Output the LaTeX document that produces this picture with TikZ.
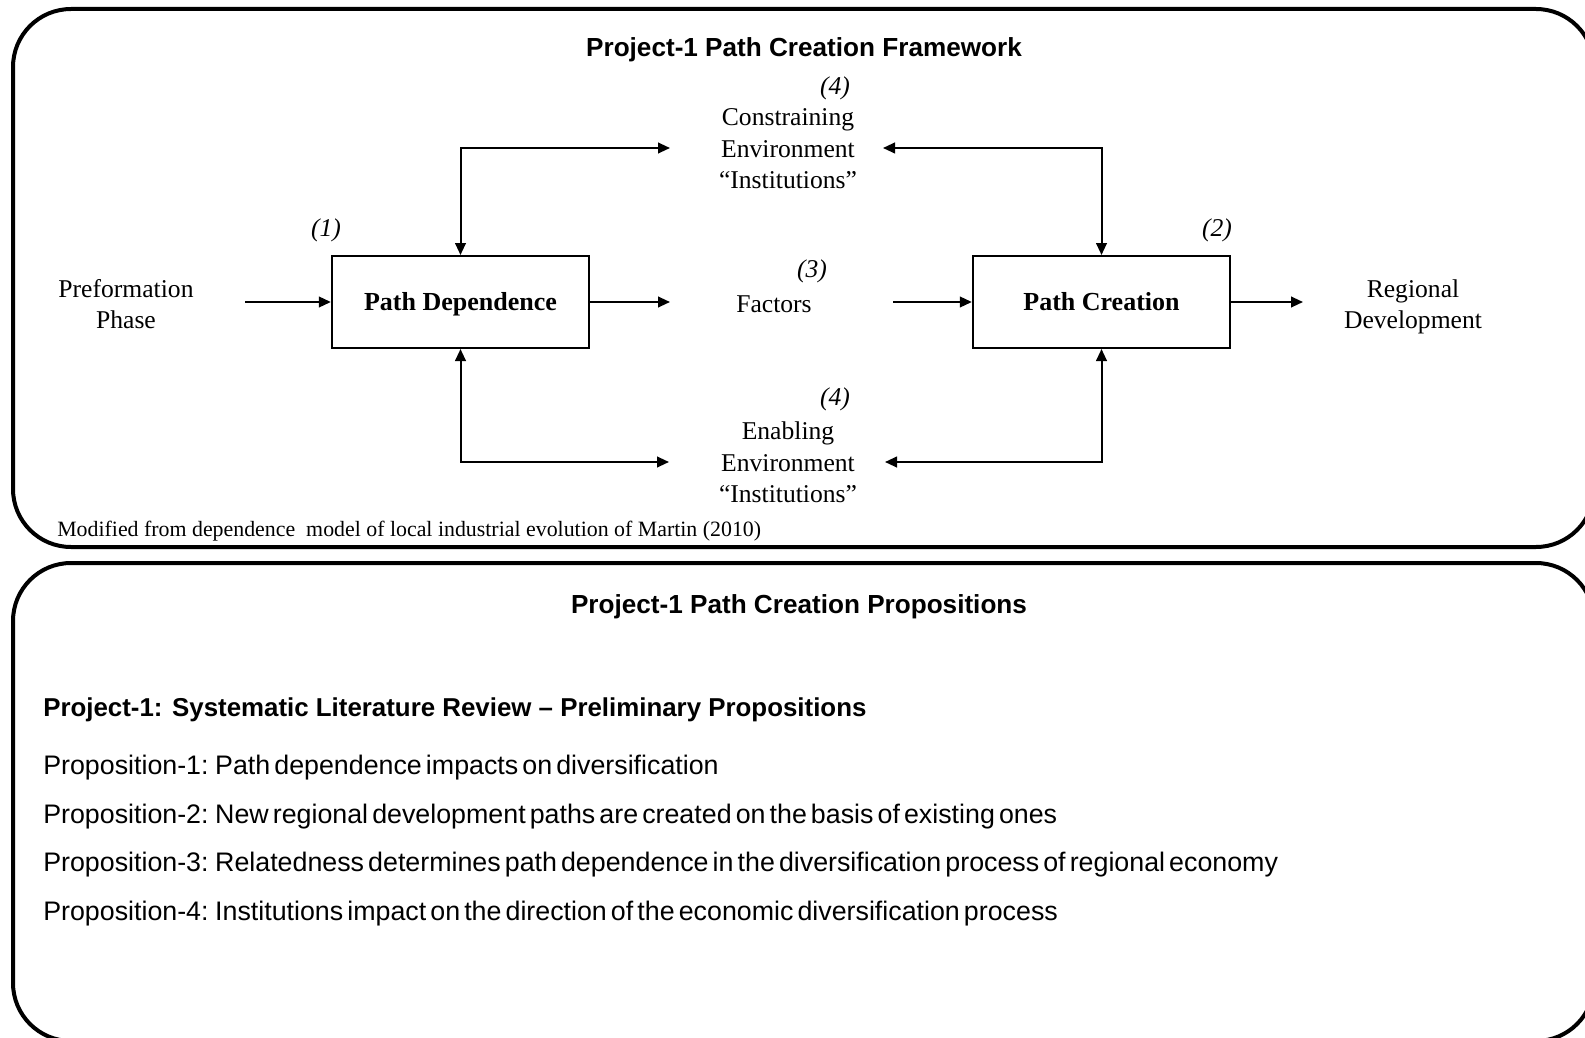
\documentclass[tikz,border=0pt]{standalone}
\usepackage{fontspec}
\setmainfont{Liberation Serif}
\setsansfont{Liberation Sans}
\newfontfamily\propfont{Liberation Sans}[WordSpace=0.55]
\usetikzlibrary{arrows.meta}
\begin{document}
\begin{tikzpicture}[x=0.75pt,y=-0.75pt,
  frame/.style={line width=3pt, rounded corners=43.5pt},
  block/.style={draw, line width=1.5pt, minimum width=193pt, minimum height=69pt,
    text height=15pt, text depth=1.6pt,
    font=\fontsize{19.5}{23}\selectfont\bfseries},
  lbl/.style={font=\fontsize{19.2}{23.6}\selectfont, align=center, inner sep=0pt},
  num/.style={font=\fontsize{19.2}{23.6}\selectfont\itshape, inner sep=0pt},
  head/.style={font=\fontsize{19.6}{23}\selectfont\sffamily\bfseries, inner sep=0pt},
  subhead/.style={font=\fontsize{19.4}{23}\selectfont\sffamily\bfseries, anchor=west, inner sep=0pt},
  note/.style={font=\fontsize{16.4}{19}\selectfont, anchor=west, inner sep=0pt},
  prop/.style={font=\fontsize{20.1}{24}\selectfont\propfont, anchor=west, inner sep=0pt},
  conn/.style={line width=1.5pt, -{Triangle[length=9pt,width=8pt]}},
  dconn/.style={line width=1.5pt, {Triangle[length=9pt,width=8pt]}-{Triangle[length=9pt,width=8pt]}},
]
\useasboundingbox (0,0) rectangle (1585,1038);
\clip (0,0) rectangle (1585,1038);
\fill[white] (0,0) rectangle (1585,1038);

% outer panels
\draw[frame] (13,9) rectangle (1594,547);
\draw[frame] (13,563) rectangle (1594,1041);

% ---- framework panel ----
\node[head] (title1) at (804,50) {Project-1 Path Creation Framework};

\node[block] (pd) at (460.5,302) {Path Dependence};
\node[block] (pc) at (1101.5,302) {Path Creation};

\node[lbl] (pre) at (126,304) {Preformation\\Phase};
\node[lbl] (fac) at (774,304) {Factors};
\node[lbl] (reg) at (1413,307) {Regional\\Development};
\node[lbl] (con) at (788,149) {Constraining\\Environment\\“Institutions”};
\node[lbl] (ena) at (788,462.5) {Enabling\\Environment\\“Institutions”};

\node[num] (n1) at (326,230) {(1)};
\node[num] (n2) at (1217,230) {(2)};
\node[num] (n3) at (812,271) {(3)};
\node[num] (n4a) at (835,88) {(4)};
\node[num] (n4b) at (835,399) {(4)};

% arrow end points
\coordinate (preout) at (245,302);
\coordinate (facin) at (670,302);
\coordinate (facout) at (893,302);
\coordinate (regin) at (1303,302);
\coordinate (conl) at (670,148);
\coordinate (conr) at (883,148);
\coordinate (enal) at (669,462);
\coordinate (enar) at (885,462);

\draw[conn] (preout) -- (pd.west);
\draw[conn] (pd.east) -- (facin);
\draw[conn] (facout) -- (pc.west);
\draw[conn] (pc.east) -- (regin);

\draw[dconn] (conl) -| (pd.north);
\draw[dconn] (conr) -| (pc.north);
\draw[dconn] (enal) -| (pd.south);
\draw[dconn] (enar) -| (pc.south);

\node[note] (src) at (57,531) {Modified from dependence~ model of local industrial evolution of Martin (2010)};

% ---- propositions panel ----
\node[head] (title2) at (799,607) {Project-1 Path Creation Propositions};
\node[subhead] (sub) at (43,710) {Project-1: Systematic Literature Review – Preliminary Propositions};
\node[prop] (p1) at (43,768) {Proposition-1: Path dependence impacts on diversification};
\node[prop] (p2) at (43,817) {Proposition-2: New regional development paths are created on the basis of existing ones};
\node[prop] (p3) at (43,865) {Proposition-3: Relatedness determines path dependence in the diversification process of regional economy};
\node[prop] (p4) at (43,914) {Proposition-4: Institutions impact on the direction of the economic diversification process};
\end{tikzpicture}
\end{document}
